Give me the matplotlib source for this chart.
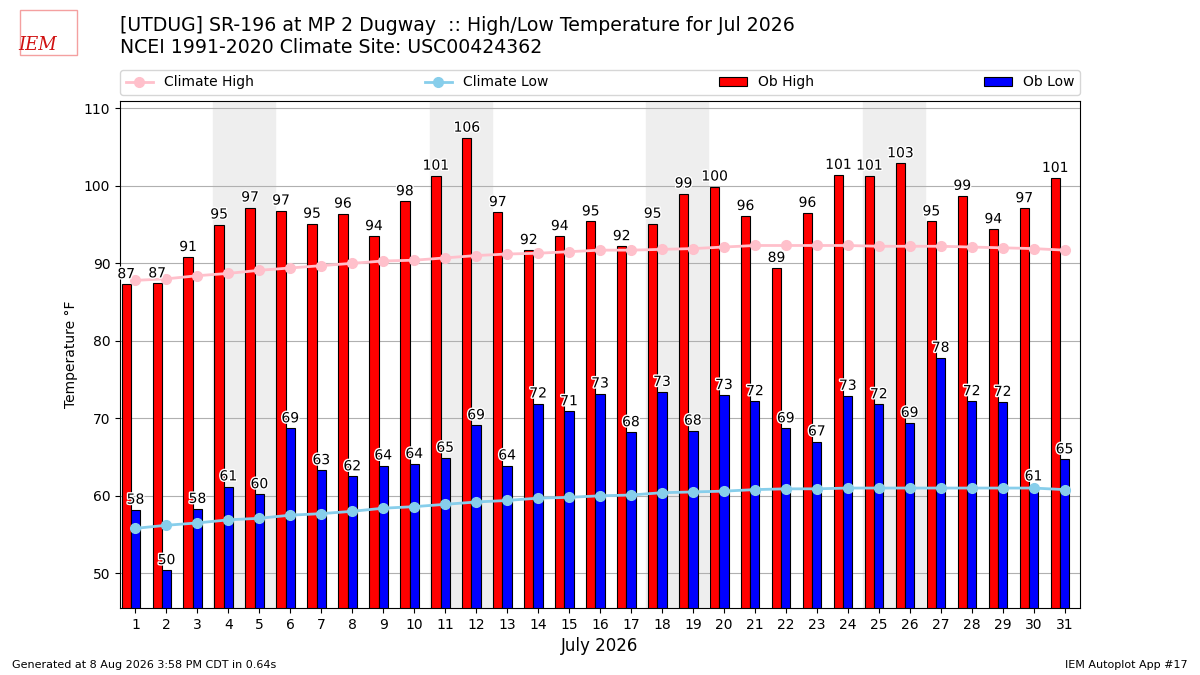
import matplotlib
matplotlib.use("Agg")
import matplotlib.pyplot as plt
import matplotlib.patheffects as pe
import numpy as np

days = list(range(1, 32))
ob_high = [87.3, 87.4, 90.8, 95.0, 97.2, 96.8, 95.1, 96.4, 93.5, 98.0,
           101.3, 106.2, 96.6, 91.7, 93.5, 95.4, 92.2, 95.1, 99.0, 99.9,
           96.1, 89.4, 96.5, 101.4, 101.3, 102.9, 95.4, 98.7, 94.4, 97.1,
           101.0]
ob_low = [58.2, 50.4, 58.3, 61.2, 60.2, 68.7, 63.3, 62.5, 63.9, 64.1,
          64.9, 69.1, 63.9, 71.9, 70.9, 73.2, 68.2, 73.4, 68.4, 73.0,
          72.2, 68.7, 67.0, 72.9, 71.8, 69.4, 77.8, 72.2, 72.1, 61.2,
          64.7]
clim_high = [87.8, 88.0, 88.4, 88.7, 89.1, 89.4, 89.7, 90.0, 90.3, 90.4,
             90.7, 91.0, 91.2, 91.3, 91.5, 91.7, 91.7, 91.8, 91.9, 92.1,
             92.3, 92.3, 92.3, 92.3, 92.2, 92.2, 92.2, 92.1, 92.0, 91.9,
             91.7]
clim_low = [55.8, 56.2, 56.5, 56.9, 57.1, 57.5, 57.7, 58.0, 58.4, 58.6,
            58.9, 59.2, 59.4, 59.7, 59.8, 60.0, 60.1, 60.4, 60.5, 60.6,
            60.8, 60.9, 60.9, 61.0, 61.0, 61.0, 61.0, 61.0, 61.0, 61.0,
            60.8]
weekends = [4, 11, 18, 25]

title = ("[UTDUG] SR-196 at MP 2 Dugway  :: High/Low Temperature for Jul 2026\n"
         "NCEI 1991-2020 Climate Site: USC00424362")

fig = plt.figure(figsize=(12, 6.75), dpi=100)
ax = fig.add_axes([0.1, 0.099, 0.8, 0.752])

for d in weekends:
    ax.axvspan(d - 0.5, d + 1.5, color="#EEEEEE", zorder=0)

x = np.array(days)
ax.bar(x - 0.3, ob_high, width=0.3, color="red", edgecolor="k",
       linewidth=0.8, label="Ob High", zorder=2)
ax.bar(x, ob_low, width=0.3, color="blue", edgecolor="k",
       linewidth=0.8, label="Ob Low", zorder=2)
ax.plot(x, clim_high, color="pink", marker="o", markersize=7, lw=2,
        label="Climate High", zorder=3)
ax.plot(x, clim_low, color="skyblue", marker="o", markersize=7, lw=2,
        label="Climate Low", zorder=3)

halo = [pe.withStroke(linewidth=2, foreground="white")]
for xi, v in zip(x, ob_high):
    ax.text(xi - 0.3, v + 0.4, "%.0f" % v, ha="center", va="bottom",
            fontsize=10, path_effects=halo, zorder=4)
for xi, v in zip(x, ob_low):
    ax.text(xi, v + 0.4, "%.0f" % v, ha="center", va="bottom",
            fontsize=10, path_effects=halo, zorder=4)

ax.set_xlim(0.5, 31.5)
ax.set_ylim(45.5, 111)
ax.set_xticks(days)
ax.set_yticks(range(50, 111, 10))
ax.set_axisbelow(True)
ax.grid(axis="y", zorder=0.5)
ax.set_xlabel("July 2026", fontsize=12)
ax.set_ylabel("Temperature °F")

h, l = ax.get_legend_handles_labels()
order = [l.index(n) for n in ["Climate High", "Climate Low", "Ob High", "Ob Low"]]
ax.legend([h[i] for i in order], [l[i] for i in order], ncol=4, mode="expand",
          loc="lower left", bbox_to_anchor=(0, 1.011, 1, 0.05), borderaxespad=0)

fig.text(0.1, 0.977, title, fontsize=13.6, va="top", ha="left",
         linespacing=1.25)
# rough stand-in for the IEM logo
fig.patches.append(plt.Rectangle((0.017, 0.918), 0.047, 0.067,
                                 transform=fig.transFigure, fill=False,
                                 edgecolor="#f4a0a0", lw=1))
fig.text(0.031, 0.933, "IEM", color="#d01010", fontsize=13, family="serif",
         style="italic", ha="center", va="center")
fig.text(0.01, 0.01, "Generated at 8 Aug 2026 3:58 PM CDT in 0.64s", fontsize=8)
fig.text(0.99, 0.01, "IEM Autoplot App #17", fontsize=8, ha="right")

fig.savefig("out.png")
